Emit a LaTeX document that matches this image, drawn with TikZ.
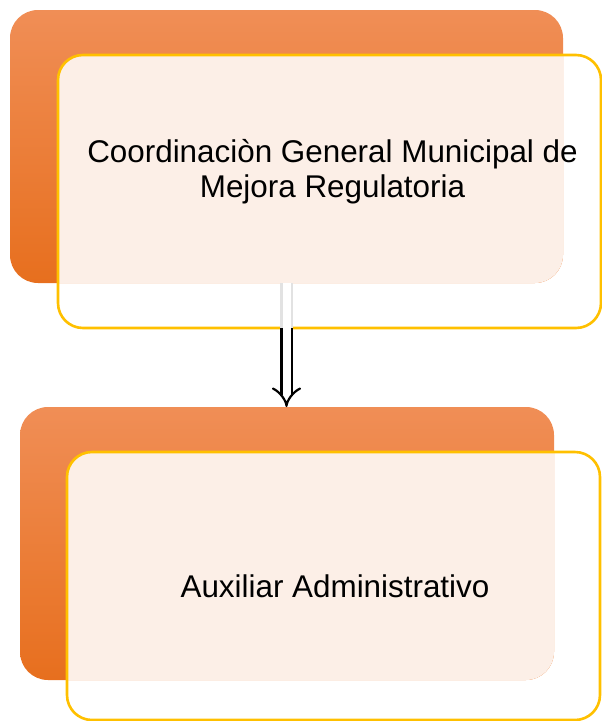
\documentclass[tikz,border=0pt]{standalone}
\usepackage{fontspec}
\setmainfont{Liberation Sans}
\usetikzlibrary{arrows.meta}
\definecolor{boxtop}{RGB}{240,142,86}
\definecolor{boxbottom}{RGB}{231,111,30}
\definecolor{peach}{RGB}{252,239,231}
\definecolor{gold}{RGB}{255,192,0}
\definecolor{faint}{RGB}{226,226,226}
\tikzset{
  place/.style={inner sep=0pt, outer sep=0pt},
  backbox/.style={place, top color=boxtop, bottom color=boxbottom, rounded corners=28pt},
  frontline/.style={draw=gold, line width=2.6pt, rounded corners=25pt},
  boxtext/.style={font=\fontsize{31.4}{35}\selectfont, align=center, inner sep=0pt},
  twin/.style={line width=2.2pt, double=white, double distance=8pt}
}

\begin{document}
\begin{tikzpicture}[x=1pt,y=-1pt]
\useasboundingbox (0,0) rectangle (602,721);
% upper level
\node[backbox, minimum width=553pt, minimum height=273pt] (back1) at (286.5,146.5) {};
\node[place, minimum width=543pt, minimum height=273pt] (front1) at (329.5,191.5) {};
\begin{scope} \clip[rounded corners=28pt] (back1.south west) rectangle (back1.north east);
\fill[peach, rounded corners=25pt] (front1.south west) rectangle (front1.north east); \end{scope}
\draw[frontline] (front1.south west) rectangle (front1.north east);
\node[boxtext, anchor=base] (title1) at (332.5,197) {Coordinaciòn General Municipal de\\Mejora Regulatoria};
% lower level
\node[backbox, minimum width=534pt, minimum height=273pt] (back2) at (287,543.5) {};
\node[place, minimum width=533pt, minimum height=268pt] (front2) at (333.5,586) {};
\begin{scope} \clip[rounded corners=28pt] (back2.south west) rectangle (back2.north east);
\fill[peach, rounded corners=25pt] (front2.south west) rectangle (front2.north east); \end{scope}
\draw[frontline] (front2.south west) rectangle (front2.north east);
\node[boxtext, anchor=base] (title2) at (335,597) {Auxiliar Administrativo};
% connector
\draw[twin, draw=faint] (back1.south) -- (back1.south |- front1.south);
\draw[twin, -{Implies[length=10pt,width=24pt]}] (back1.south |- front1.south) -- (back1.south |- back2.north);
\end{tikzpicture}
\end{document}
